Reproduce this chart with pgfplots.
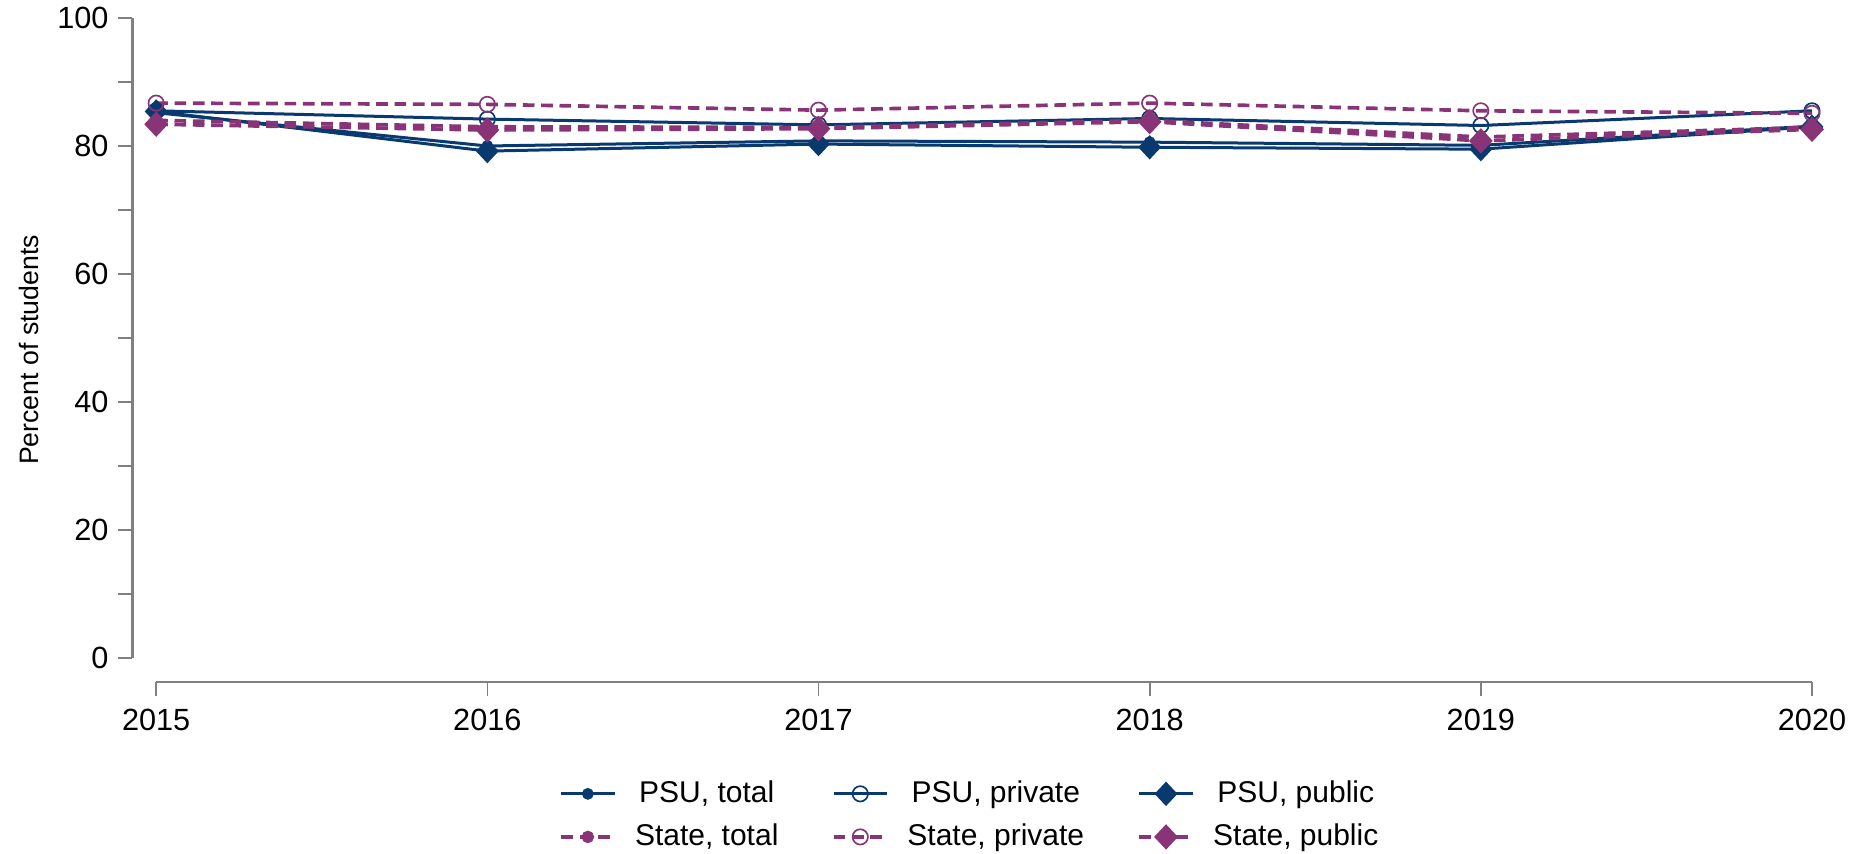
\documentclass[border=0pt]{standalone}
\usepackage{fontspec}
\setmainfont{Liberation Sans}
\usepackage{pgfplots}
\pgfplotsset{compat=1.18}
\definecolor{navy}{RGB}{8,58,112}
\definecolor{plum}{RGB}{138,52,120}
\begin{document}
\fontsize{8}{9.6}\selectfont
\begin{tikzpicture}
\begin{axis}[name=ax, scale only axis, width=503.9pt, height=199.2pt,
  xmin=2014.928, xmax=2020, ymin=-3.75, ymax=100,
  clip=false,
  axis line style={draw=none},
  xtick={2015,2016,2017,2018,2019,2020},
  ytick={0,20,40,60,80,100}, minor ytick={10,30,50,70,90},
  tick align=outside, tick style={gray, line width=0.5pt},
  major tick length=4.3pt, minor tick length=4.3pt,
  xtick pos=bottom, ytick pos=left,
  x tick label style={/pgf/number format/1000 sep={}, yshift=-1pt},
  /pgf/number format/assume math mode=true,
  tick label style={font=\fontsize{9.2}{11}\selectfont},
  ylabel={Percent of students},
  label style={font=\fontsize{8}{9.6}\selectfont},
  legend style={at={(0.5,-0.128)}, anchor=north, draw=none,
    font=\fontsize{9}{10.5}\selectfont, row sep=1.2pt,
    /tikz/every even column/.append style={column sep=14pt},
    /tikz/every odd column/.append style={column sep=3.6pt}},
  legend columns=3,
  legend image code/.code={\draw[mark repeat=2,mark phase=2,#1] plot coordinates {(0pt,0pt)(8pt,0pt)(16pt,0pt)};},
]
\addplot[navy, line width=0.9pt, mark=*, mark size=1.3pt] coordinates {
 (2015,85.2) (2016,80.0) (2017,80.8) (2018,80.6) (2019,80.1) (2020,83.1)};
\addlegendentry{PSU, total}
\addplot[navy, line width=0.9pt, mark=o, mark size=2.3pt, mark options={line width=0.5pt}] coordinates {
 (2015,85.5) (2016,84.2) (2017,83.3) (2018,84.3) (2019,83.2) (2020,85.5)};
\addlegendentry{PSU, private}
\addplot[navy, line width=0.9pt, mark=diamond*, mark size=3pt, mark options={xscale=1.25}] coordinates {
 (2015,85.4) (2016,79.2) (2017,80.3) (2018,79.8) (2019,79.5) (2020,83.0)};
\addlegendentry{PSU, public}
\addplot[plum, line width=1.1pt, dash pattern=on 3.5pt off 2pt, mark=*, mark size=1.3pt, mark options={solid}] coordinates {
 (2015,84.0) (2016,83.0) (2017,82.9) (2018,84.0) (2019,81.4) (2020,82.9)};
\addlegendentry{State, total}
\addplot[plum, line width=1.1pt, dash pattern=on 3.5pt off 2pt, mark=o, mark size=2.3pt, mark options={solid, line width=0.5pt}] coordinates {
 (2015,86.7) (2016,86.5) (2017,85.6) (2018,86.7) (2019,85.5) (2020,85.1)};
\addlegendentry{State, private}
\addplot[plum, line width=1.1pt, dash pattern=on 3.5pt off 2pt, mark=diamond*, mark size=3pt, mark options={solid, xscale=1.25}] coordinates {
 (2015,83.4) (2016,82.5) (2017,82.7) (2018,83.8) (2019,80.8) (2020,82.6)};
\addlegendentry{State, public}
\draw[gray, line width=0.8pt] (axis cs:2014.928,0) -- (axis cs:2014.928,100);
\draw[gray, line width=0.8pt] (axis cs:2015,-3.75) -- (axis cs:2020,-3.75);
\end{axis}
\pgfresetboundingbox
\path[use as bounding box] ([shift={(-39.7pt,-51.6pt)}]ax.south west) rectangle ([shift={(17.7pt,5.4pt)}]ax.north east);
\end{tikzpicture}
\end{document}
